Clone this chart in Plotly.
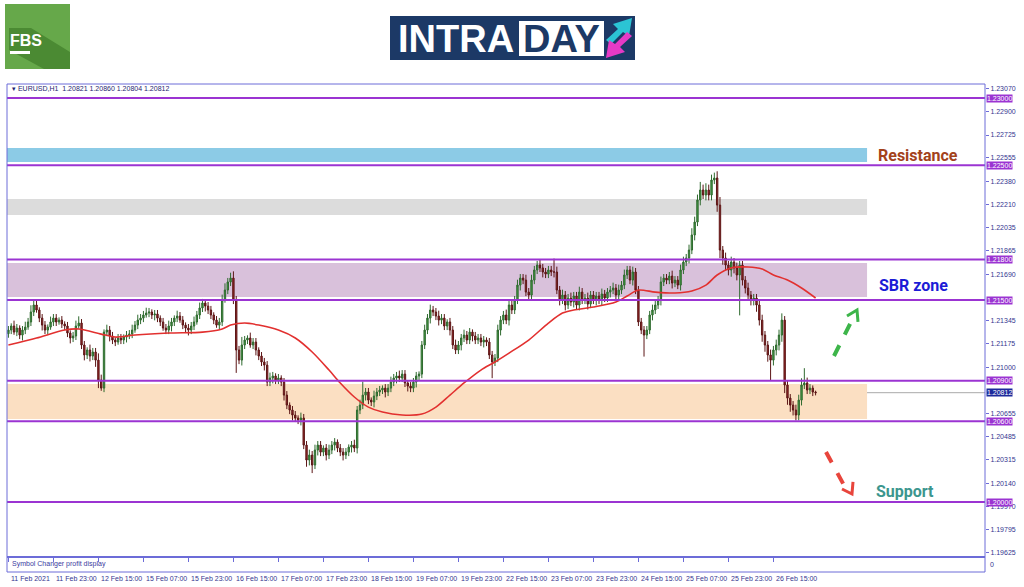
import plotly.graph_objects as go

# ---------------- data ----------------
first_open = 1.21250
closes = [
 1.21277,1.21307,1.21262,1.21292,1.21240,1.21277,1.21299,1.21337,1.21411,1.21463,1.21426,1.21366,1.21314,1.21277,1.21299,1.21337,1.21366,1.21337,1.21351,1.21322,1.21307,1.21255,1.21218,1.21233,
 1.21307,1.21329,1.21166,1.21092,1.21129,1.21084,1.21114,1.21054,1.20906,1.20846,1.21262,1.21277,1.21233,1.21203,1.21188,1.21218,1.21203,1.21225,1.21240,1.21247,1.21277,1.21314,1.21351,1.21366,
 1.21389,1.21403,1.21411,1.21389,1.21396,1.21366,1.21337,1.21292,1.21277,1.21307,1.21337,1.21366,1.21381,1.21351,1.21314,1.21292,1.21277,1.21307,1.21337,1.21389,1.21441,1.21478,1.21455,1.21426,
 1.21389,1.21351,1.21314,1.21337,1.21500,1.21574,1.21634,1.21663,1.21500,1.21129,1.21054,1.21166,1.21203,1.21218,1.21166,1.21188,1.21129,1.21084,1.21040,1.21017,1.20891,1.20921,1.20936,1.20906,
 1.20921,1.20891,1.20794,1.20720,1.20683,1.20646,1.20624,1.20609,1.20624,1.20423,1.20312,1.20349,1.20275,1.20386,1.20423,1.20371,1.20401,1.20349,1.20386,1.20423,1.20445,1.20401,1.20371,1.20349,
 1.20371,1.20408,1.20423,1.20401,1.20683,1.20720,1.20794,1.20817,1.20757,1.20743,1.20787,1.20817,1.20832,1.20846,1.20817,1.20846,1.20891,1.20921,1.20936,1.20921,1.20950,1.20884,1.20861,1.20846,
 1.20891,1.20936,1.20950,1.21166,1.21277,1.21366,1.21426,1.21411,1.21381,1.21351,1.21366,1.21307,1.21337,1.21277,1.21166,1.21129,1.21166,1.21218,1.21240,1.21203,1.21262,1.21233,1.21203,1.21218,
 1.21188,1.21203,1.21188,1.21092,1.21040,1.21069,1.21277,1.21351,1.21389,1.21351,1.21463,1.21426,1.21500,1.21611,1.21663,1.21648,1.21559,1.21537,1.21648,1.21723,1.21760,1.21738,1.21708,1.21693,
 1.21723,1.21708,1.21708,1.21574,1.21500,1.21537,1.21463,1.21515,1.21485,1.21530,1.21463,1.21559,1.21500,1.21515,1.21470,1.21537,1.21500,1.21530,1.21500,1.21545,1.21515,1.21559,1.21574,1.21589,
 1.21537,1.21574,1.21611,1.21686,1.21723,1.21648,1.21708,1.21574,1.21337,1.21277,1.21240,1.21277,1.21389,1.21426,1.21463,1.21500,1.21634,1.21663,1.21648,1.21678,1.21626,1.21648,1.21611,1.21723,
 1.21782,1.21812,1.21871,1.21983,1.22079,1.22243,1.22317,1.22280,1.22317,1.22280,1.22391,1.22406,1.22205,1.21871,1.21812,1.21760,1.21723,1.21782,1.21738,1.21686,1.21760,1.21648,1.21589,1.21537,
 1.21500,1.21515,1.21463,1.21351,1.21240,1.21166,1.21092,1.21054,1.21129,1.21166,1.21240,1.21351,1.20869,1.20772,1.20720,1.20683,1.20646,1.20757,1.20869,1.20884,1.20832,1.20846,1.20817,1.20812,
]
# upper / lower wick lengths in pips
wick_up = [
 3,2,4,3,2,3,4,3,5,4,3,2,3,3,2,4,3,3,2,3,2,3,2,3,
 4,5,3,3,2,4,3,3,5,4,2,4,3,3,2,3,3,2,3,3,4,3,4,3,
 3,4,3,2,3,3,2,3,3,4,3,2,4,3,3,2,3,3,4,3,4,3,2,3,
 3,2,3,3,4,5,3,4,5,3,3,6,3,2,4,3,3,2,3,3,3,4,3,2,
 3,2,3,3,2,3,3,2,4,3,3,4,3,4,3,3,2,3,4,3,3,2,3,3,
 3,2,3,4,3,4,10,3,3,2,4,3,3,2,3,3,4,3,3,4,3,3,2,3,
 3,3,2,3,4,3,4,3,3,4,3,3,2,3,3,4,3,3,4,3,3,2,3,3,
 3,3,2,3,3,3,4,3,3,4,3,4,3,4,3,3,4,3,4,3,3,4,3,3,
 3,3,10,4,3,4,3,3,4,3,3,4,3,3,4,3,3,3,3,4,3,3,3,4,
 3,4,3,4,3,3,4,3,3,3,3,3,3,4,3,3,4,3,3,3,4,3,3,4,
 4,3,4,5,4,4,6,4,5,4,4,4,5,6,3,4,3,4,3,4,3,3,3,4,
 3,3,3,3,4,3,3,4,3,4,4,5,3,3,3,3,4,4,5,11,4,3,2,1,
]
wick_dn = [
 3,3,2,3,3,4,3,2,3,3,2,3,4,3,3,2,3,3,2,3,3,3,4,3,
 3,2,3,4,3,4,3,5,6,2,3,3,4,3,3,2,3,3,4,3,3,2,3,3,
 3,2,3,3,4,3,3,2,3,3,4,3,3,2,3,3,4,3,3,2,3,3,4,3,
 3,3,2,3,3,2,3,3,3,17,3,4,3,3,2,3,4,3,3,4,3,3,4,3,
 3,3,4,3,3,4,3,3,4,3,5,4,6,3,4,3,3,4,3,3,4,3,3,4,
 3,3,4,3,4,3,3,4,3,3,4,3,3,3,4,3,3,3,4,3,3,3,4,3,
 3,4,3,3,3,3,4,3,3,4,3,3,3,4,3,3,3,4,3,3,3,4,3,3,
 3,4,3,3,12,3,3,4,3,3,4,3,3,3,4,3,3,3,4,3,3,3,4,3,
 3,3,4,3,4,3,4,3,3,4,3,4,3,3,4,3,3,4,3,4,3,3,4,3,
 3,4,3,3,3,3,4,3,3,3,16,3,3,4,3,3,4,3,3,3,4,3,3,4,
 3,3,4,3,4,3,4,3,4,4,4,3,5,6,5,4,4,5,4,4,30,4,4,4,
 4,4,5,4,5,5,5,15,4,4,4,5,6,5,5,4,4,4,4,3,3,3,3,2,
]

# moving average, read at selected bars
ma_bar = [0,10,20,25,33,38,45,57,69,76,79,84,89,96,102,108,114,118,123,128,133,140,147,152,157,162,168,
          173,178,185,192,197,201,208,216,220,224,230,237,243,248,252,257,263,268,272,277,282,287]
ma_val = [1.21166,1.21218,1.21277,1.21285,1.21247,1.21225,1.21240,1.21255,1.21262,1.21285,1.21314,1.21329,
          1.21314,1.21277,1.21218,1.21114,1.20980,1.20884,1.20780,1.20705,1.20668,1.20646,1.20653,1.20705,
          1.20794,1.20884,1.20980,1.21040,1.21106,1.21203,1.21329,1.21403,1.21426,1.21448,1.21485,1.21530,
          1.21574,1.21559,1.21552,1.21567,1.21611,1.21686,1.21738,1.21745,1.21730,1.21686,1.21648,1.21589,1.21515]

date_bar = [0,16,32,48,64,80,96,112,128,144,160,176,192,208,224,240,256,272]
date_labels = ["11 Feb 2021","11 Feb 23:00","12 Feb 15:00","15 Feb 07:00","15 Feb 23:00","16 Feb 15:00",
               "17 Feb 07:00","17 Feb 23:00","18 Feb 15:00","19 Feb 07:00","19 Feb 23:00","22 Feb 15:00",
               "23 Feb 07:00","23 Feb 23:00","24 Feb 15:00","25 Feb 07:00","25 Feb 23:00","26 Feb 15:00"]

price_ticks = [1.23070,1.22900,1.22725,1.22555,1.22380,1.22210,1.22035,1.21865,1.21690,1.21345,
               1.21175,1.21000,1.20655,1.20485,1.20315,1.20140,1.19970,1.19795,1.19625]

level_lines = [1.23000,1.22500,1.21800,1.21500,1.20900,1.20600,1.20000]
current_price = 1.20812
ohlc_header = "EURUSD,H1  1.20821 1.20860 1.20804 1.20812"

zone_low  = [1.22525,1.22131,1.21522,1.20616]
zone_high = [1.22629,1.22250,1.21775,1.20876]
zone_color = ["#8ccbe6","#dcdcdc","#d9c1db","#fbdfc2"]
zone_end_bar = 305.3

# ---------------- build ----------------
n = min(len(closes), len(wick_up), len(wick_dn))
closes = closes[:n]
opens = [first_open] + closes[:-1]
highs = [max(o, c) + u * 0.0001 for o, c, u in zip(opens, closes, wick_up)]
lows = [min(o, c) - d * 0.0001 for o, c, d in zip(opens, closes, wick_dn)]
bars = list(range(n))

W, H = 1024, 587
ML, MR, MT, MB = 7, 39, 84, 15
PW, PH = W - ML - MR, H - MT - MB


def PX(x):
    return (x - ML) / PW


def PY(y):
    return (H - MB - y) / PH


FRAME = "#6c6cd8"
PURPLE = "#9b34d2"
AXTXT = "#35358f"

fig = go.Figure()
fig.add_trace(go.Candlestick(
    x=bars, open=opens, high=highs, low=lows, close=closes,
    increasing=dict(line=dict(color="#2f6a2f", width=1), fillcolor="#45a045"),
    decreasing=dict(line=dict(color="#5c1616", width=1), fillcolor="#9a2626"),
    whiskerwidth=0, showlegend=False, hoverinfo="skip"))
fig.add_trace(go.Scatter(x=ma_bar, y=ma_val, mode="lines",
                         line=dict(color="#e2302f", width=1.6, shape="spline", smoothing=0.8),
                         showlegend=False, hoverinfo="skip"))

shapes = []
for lo, hi, col in zip(zone_low, zone_high, zone_color):
    shapes.append(dict(type="rect", xref="x", yref="y", x0=-0.5, x1=zone_end_bar, y0=lo, y1=hi,
                       fillcolor=col, line=dict(width=0), layer="below"))
shapes.append(dict(type="line", xref="paper", yref="y", x0=0, x1=1, y0=current_price, y1=current_price,
                   line=dict(color="#a9a9a9", width=1), layer="below"))
for lv in level_lines:
    shapes.append(dict(type="line", xref="paper", yref="y", x0=0, x1=1, y0=lv, y1=lv,
                       line=dict(color=PURPLE, width=2)))
# frame
shapes.append(dict(type="rect", xref="paper", yref="paper", x0=0, x1=1, y0=0, y1=1,
                   line=dict(color=FRAME, width=1)))
shapes.append(dict(type="line", xref="paper", yref="paper", x0=0, x1=1, y0=PY(557), y1=PY(557),
                   line=dict(color=FRAME, width=2)))


# arrows
def seg(x0, y0, x1, y1, col, w, dash=None):
    d = dict(color=col, width=w)
    if dash:
        d["dash"] = dash
    return dict(type="line", xref="paper", yref="paper", x0=PX(x0), y0=PY(y0), x1=PX(x1), y1=PY(y1), line=d)


def path(pts, fill=None, col=None, w=0, closed=True):
    s = "M " + " L ".join(f"{PX(x):.5f},{PY(y):.5f}" for x, y in pts) + (" Z" if closed else "")
    d = dict(type="path", xref="paper", yref="paper", path=s, line=dict(width=w, color=col or "rgba(0,0,0,0)"))
    if fill:
        d["fillcolor"] = fill
    return d


GREEN, RED = "#3db54a", "#e8453c"
shapes.append(seg(834, 356, 854, 316, GREEN, 4, "dash"))
shapes.append(path([(858, 322), (857, 310), (847, 316)], col=GREEN, w=3, closed=False))
shapes.append(seg(826, 452, 846, 489, RED, 4, "dash"))
shapes.append(path([(853, 482), (852, 494), (842, 489)], col=RED, w=3, closed=False))

# FBS logo
shapes.append(path([(5, 4), (70, 4), (70, 69), (5, 69)], fill="#66a84a"))
shapes.append(path([(9, 28), (31, 28), (70, 52), (70, 69), (44, 69), (9, 50)], fill="#4b8a33"))
shapes.append(path([(10, 51), (30, 51), (30, 54), (10, 54)], fill="#ffffff"))
# INTRADAY logo
shapes.append(path([(390, 16), (635, 16), (635, 60), (390, 60)], fill="#1c3966"))
shapes.append(path([(519, 21), (604, 21), (604, 56), (519, 56)], fill="#ffffff"))
shapes.append(path([(606, 40), (618, 29), (613, 24), (632, 18), (629, 36), (623, 32), (611, 44)], fill="#2bc4d4"))
shapes.append(path([(632, 36), (620, 47), (625, 52), (606, 58), (609, 40), (615, 44), (627, 32)], fill="#e63ac6"))

ann = []
F = "Liberation Sans"
for b, t in zip(date_bar, date_labels):
    ann.append(dict(x=b, y=PY(578), xref="x", yref="paper", text=t, showarrow=False, xanchor="left",
                    yanchor="middle", xshift=1, font=dict(family=F, size=7, color=AXTXT)))
for lv in level_lines:
    ann.append(dict(x=1, y=lv, xref="paper", yref="y", text=f"{lv:.5f}", showarrow=False, xanchor="left",
                    yanchor="middle", xshift=1, bgcolor=PURPLE, borderpad=0,
                    font=dict(family=F, size=7, color="white")))
ann.append(dict(x=1, y=current_price, xref="paper", yref="y", text=f"{current_price:.5f}", showarrow=False,
                xanchor="left", yanchor="middle", xshift=1, bgcolor="#1d2a9c", borderpad=0,
                font=dict(family=F, size=7, color="white")))
ann.append(dict(x=PX(10), y=PY(89), xref="paper", yref="paper", text="▾ " + ohlc_header, showarrow=False,
                xanchor="left", yanchor="middle", font=dict(family=F, size=7, color="#1e1e70")))
ann.append(dict(x=PX(10), y=PY(564), xref="paper", yref="paper", text="Symbol Changer profit display",
                showarrow=False, xanchor="left", yanchor="middle", font=dict(family=F, size=7, color="#3a3aa0")))
ann.append(dict(x=1, y=PY(564), xref="paper", yref="paper", text="0", showarrow=False, xanchor="left",
                yanchor="middle", xshift=3, font=dict(family=F, size=7, color=AXTXT)))
BF = "Roboto"
for txt, cx, cy, col in [("Resistance", 918, 155, "#a3421b"), ("SBR zone", 913, 285, "#1c1cd6"),
                         ("Support", 905, 491, "#3c968e")]:
    ann.append(dict(x=PX(cx), y=PY(cy), xref="paper", yref="paper", text=f"<b>{txt}</b>", showarrow=False,
                    xanchor="center", yanchor="middle", font=dict(family=BF, size=16, color=col)))
# logo texts
ann.append(dict(x=PX(8), y=PY(40), xref="paper", yref="paper", text="<b>FBS</b>", showarrow=False,
                xanchor="left", yanchor="middle",
                font=dict(family="Liberation Sans Narrow, Liberation Sans", size=16, color="white")))
ann.append(dict(x=PX(396), y=PY(39), xref="paper", yref="paper", text="<b>INTRA</b>", showarrow=False,
                xanchor="left", yanchor="middle", font=dict(family="Liberation Sans", size=38, color="white")))
ann.append(dict(x=PX(521), y=PY(39), xref="paper", yref="paper", text="<b>DAY</b>", showarrow=False,
                xanchor="left", yanchor="middle", font=dict(family="Liberation Sans", size=38, color="#1c3966")))

fig.update_layout(
    width=W, height=H, margin=dict(l=ML, r=MR, t=MT, b=MB),
    paper_bgcolor="white", plot_bgcolor="white",
    shapes=shapes, annotations=ann, showlegend=False,
    xaxis=dict(range=[-0.5, PW / 2.8125 - 0.5], anchor="y2", showgrid=False, zeroline=False,
               tickmode="array", tickvals=date_bar, ticks="outside", ticklen=4, tickcolor=FRAME,
               showticklabels=False, rangeslider=dict(visible=False), fixedrange=True),
    yaxis=dict(domain=[PY(557), 1], range=[1.19592, 1.23104], side="right", showgrid=False, zeroline=False,
               tickmode="array", tickvals=price_ticks, tickformat=".5f", ticks="outside", ticklen=3,
               tickcolor=FRAME, tickfont=dict(family=F, size=7, color=AXTXT), fixedrange=True),
    yaxis2=dict(domain=[0, PY(557)], range=[0, 1], visible=False, fixedrange=True),
)

fig.write_html("out.html", config={"displayModeBar": False},
               post_script="document.body.style.margin='0';document.body.style.overflow='hidden';")
